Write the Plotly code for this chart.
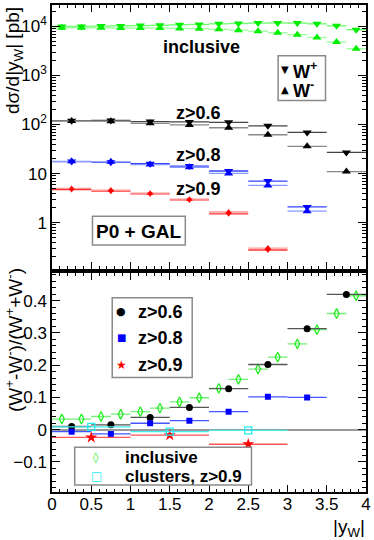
import plotly.graph_objects as go

# ---- top panel: d(sigma)/d|y_W| [pb] ----
inc_centres = [0.125, 0.375, 0.625, 0.875, 1.125, 1.375, 1.625, 1.875,
               2.125, 2.375, 2.625, 2.875, 3.125, 3.375, 3.625, 3.875]
inc_wplus = [10000, 10000, 10150, 10250, 10400, 10550, 10800, 11000,
             11300, 11500, 11700, 11800, 11700, 11300, 10300, 8600]
inc_wminus = [9350, 9350, 9350, 9300, 9300, 9250, 9100, 9000,
              8750, 8400, 8000, 7450, 6800, 5950, 4800, 3500]

z_centres = [0.25, 0.75, 1.25, 1.75, 2.25, 2.75, 3.25, 3.75]
z06_wplus = [120, 121, 115, 113, 111, 94, 69, 27]
z06_wminus = [118, 117, 106, 98, 86, 62, 36, 11]
z08_wplus = [17.6, 17.0, 15.9, 14.2, 11.3, 7.05, 2.09]
z08_wminus = [17.8, 17.4, 15.3, 13.4, 10.1, 5.75, 1.71]
z09_wplus = [4.74, 4.39, 3.85, 2.91, 1.51, 0.277]
z09_wminus = [4.98, 4.61, 3.99, 3.01, 1.65, 0.303]

# ---- bottom panel: charge asymmetry ----
inc_asym = [0.033, 0.033, 0.041, 0.048, 0.056, 0.067, 0.086, 0.099,
            0.128, 0.156, 0.188, 0.225, 0.266, 0.310, 0.360, 0.415]
z06_asym = [0.010, 0.015, 0.038, 0.069, 0.127, 0.202, 0.313, 0.419]
z08_asym = [-0.006, -0.013, 0.020, 0.028, 0.056, 0.102, 0.100]
wide_centres = [0.5, 1.5, 2.5]
z09_asym = [-0.024, -0.017, -0.045]
clus_asym = [0.009, -0.006, -0.002]

log_ticks = [1, 10, 100, 1000, 10000]
log_labels = ["1", "10", "10<sup>2</sup>", "10<sup>3</sup>", "10<sup>4</sup>"]
x_ticks = [0, 0.5, 1, 1.5, 2, 2.5, 3, 3.5, 4]
x_labels = ["0", "0.5", "1", "1.5", "2", "2.5", "3", "3.5", "4"]

FONT = "Liberation Sans, Arial, Helvetica, sans-serif"
W, H = 374, 540
ML, MR, MT, MB = 52, 4, 3, 48


def px(x):
    return (x - ML) / (W - ML - MR)


def py(y):
    return (H - MB - y) / (H - MT - MB)


def binned(x, y, half, symbol, size, mcolor, lcolor, ax, open_marker=False):
    return go.Scatter(
        x=x, y=y, mode="markers", xaxis="x" + ax, yaxis="y" + ax,
        marker=dict(symbol=symbol, size=size, color=mcolor,
                    line=dict(width=1.3 if open_marker else 0, color=mcolor)),
        error_x=dict(type="constant", value=half, width=0, thickness=1.3, color=lcolor),
        showlegend=False,
    )


fig = go.Figure()

# top panel series (W+ down triangles, W- up triangles)
fig.add_trace(binned(inc_centres, inc_wplus, 0.125, "triangle-down", 8, "#00ee00", "#66ff66", ""))
fig.add_trace(binned(inc_centres, inc_wminus, 0.125, "triangle-up", 8, "#00ee00", "#99ff99", ""))
fig.add_trace(binned(z_centres, z06_wplus, 0.25, "triangle-down", 8, "#000000", "#444444", ""))
fig.add_trace(binned(z_centres, z06_wminus, 0.25, "triangle-up", 8, "#000000", "#888888", ""))
fig.add_trace(binned(z_centres[:7], z08_wplus, 0.25, "triangle-down", 8, "#0000ff", "#3344ff", ""))
fig.add_trace(binned(z_centres[:7], z08_wminus, 0.25, "triangle-up", 8, "#0000ff", "#8899ff", ""))
fig.add_trace(binned(z_centres[:6], z09_wplus, 0.25, "triangle-down", 6, "#ff0000", "#ff3333", ""))
fig.add_trace(binned(z_centres[:6], z09_wminus, 0.25, "triangle-up", 6, "#ff0000", "#ff9999", ""))

# bottom panel series
fig.add_trace(binned(inc_centres, inc_asym, 0.125, "diamond-tall-open", 7, "#22ee22", "#77ee77", "2", True))
fig.add_trace(binned(z_centres, z06_asym, 0.25, "circle", 7, "#000000", "#555555", "2"))
fig.add_trace(binned(z_centres[:7], z08_asym, 0.25, "square", 6, "#0000ff", "#4455ff", "2"))
fig.add_trace(binned(wide_centres, z09_asym, 0.5, "star", 9, "#ff0000", "#ff5555", "2"))
fig.add_trace(binned(wide_centres, clus_asym, 0.5, "square-open", 7, "#22eeee", "#44eeee", "2", True))

axis_common = dict(
    showline=True, linecolor="black", linewidth=1.5, mirror="allticks",
    ticks="inside", tickcolor="black", showgrid=False, zeroline=False,
    tickfont=dict(family=FONT, size=17, color="black"),
)
minor_x = dict(ticks="inside", ticklen=3.5, dtick=0.1, tick0=0, tickcolor="black", showgrid=False)

minor_log = [k * 10.0 ** d for d in range(-1, 5) for k in range(2, 10)]

fig.update_layout(
    width=W, height=H,
    margin=dict(l=ML, r=MR, t=MT, b=MB),
    paper_bgcolor="white", plot_bgcolor="white",
    font=dict(family=FONT, color="black"),
    xaxis=dict(axis_common, range=[0, 4], anchor="y", tickvals=x_ticks, ticklen=7,
               showticklabels=False, minor=minor_x),
    yaxis=dict(axis_common, type="log", range=[-0.944, 4.437], domain=[0.458, 1], anchor="x",
               tickvals=log_ticks, ticktext=log_labels, ticklen=8,
               minor=dict(ticks="inside", ticklen=4, tickvals=minor_log, tickcolor="black", showgrid=False)),
    xaxis2=dict(axis_common, range=[0, 4], anchor="y2", tickvals=x_ticks, ticktext=x_labels,
                ticklen=7, ticklabelstandoff=-4, minor=minor_x),
    yaxis2=dict(axis_common, range=[-0.193, 0.486], domain=[0, 0.45], anchor="x2",
                dtick=0.1, tick0=0, ticklen=8,
                zeroline=True, zerolinecolor="#999999", zerolinewidth=2,
                minor=dict(ticks="inside", ticklen=4, dtick=0.02, tick0=0, tickcolor="black", showgrid=False)),
)

annots = []


def text(x, y, s, size=18, bold=True, xanchor="left", color="black", angle=0, yanchor="middle"):
    annots.append(dict(
        x=px(x), y=py(y), xref="paper", yref="paper", text=f"<b>{s}</b>" if bold else s,
        showarrow=False, xanchor=xanchor, yanchor=yanchor, textangle=angle,
        font=dict(family=FONT, size=size, color=color),
    ))


def glyph(x, y, s, color, size=11):
    annots.append(dict(
        x=px(x), y=py(y), xref="paper", yref="paper", text=s, showarrow=False,
        xanchor="center", yanchor="middle",
        font=dict(family="DejaVu Sans, sans-serif", size=size, color=color),
    ))


def box(x0, y0, x1, y1):
    fig.add_shape(type="rect", xref="paper", yref="paper",
                  x0=px(x0), x1=px(x1), y0=py(y1), y1=py(y0),
                  line=dict(color="#8a8a8a", width=1.5), fillcolor="white", layer="above")


# labels inside the top panel
text(162, 45, "inclusive")
text(176, 111, "z&gt;0.6")
text(176, 154, "z&gt;0.8")
text(176, 188, "z&gt;0.9")
box(93, 215, 187, 244)
text(140, 230, "P0 + GAL", size=19, xanchor="center")

# W+ / W- key
box(281, 54, 329, 99)
glyph(287.5, 68, "▼", "black", 10)
text(294, 69, "W<sup>+</sup>", size=18)
glyph(287.5, 88, "▲", "black", 10)
text(294, 88, "W<sup>-</sup>", size=18)

# bottom keys
box(113, 297, 194, 377)
glyph(122, 311, "●", "black", 11)
text(137, 311, "z&gt;0.6")
glyph(122, 337, "■", "#0000ff", 10)
text(137, 337, "z&gt;0.8")
glyph(122, 364, "★", "#ff0000", 12)
text(137, 364, "z&gt;0.9")

box(75, 447, 254, 485)
glyph(97, 457, "◊", "#22ee22", 11)
text(124, 457, "inclusive", size=17)
glyph(97, 476, "□", "#22eeee", 12)
text(124, 476, "clusters, z&gt;0.9", size=17)

# axis titles
text(13, 3, "dσ/d|y<sub>W</sub>| [pb]", size=19, bold=False, xanchor="center", angle=-90, yanchor="top")
text(13, 339, "(W<sup>+</sup>-W<sup>-</sup>)/(W<sup>+</sup>+W<sup>-</sup>)", size=19, bold=False,
     xanchor="center", angle=-90)
text(371, 528, "|y<sub>W</sub>|", size=19, bold=False, xanchor="right")

fig.update_layout(annotations=annots)

# page body has a default 8px margin; drop it so the figure sits at the corner
fig.write_html("out.html", config={"displayModeBar": False},
               post_script="document.body.style.margin='0';")
